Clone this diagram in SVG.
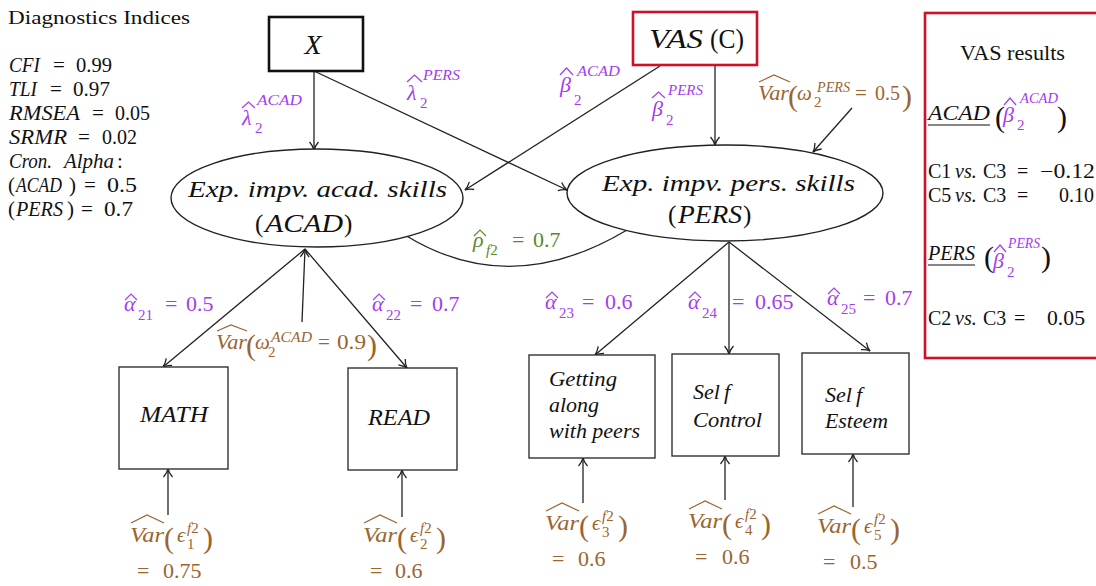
<svg xmlns="http://www.w3.org/2000/svg" width="1096" height="586" viewBox="0 0 1096 586">
<defs>
<marker id="arr" markerUnits="userSpaceOnUse" markerWidth="12" markerHeight="12" viewBox="0 0 12 12" refX="11" refY="6" orient="auto">
<path d="M3,1.5 Q7,5 11,6 Q7,7 3,10.5" fill="none" stroke="#222" stroke-width="1.3"/>
</marker>
</defs>
<style>
text{font-family:"Liberation Serif","Times New Roman",serif;fill:#111;font-size:21px}
.i{font-style:italic}
.p{fill:#a43cf2}
.b{fill:#9a6530}
.g{fill:#5a8a2a}
.s{font-size:15px}
.big{font-size:30px}
.m{font-size:22px}
.ph{stroke:#a43cf2;fill:none;stroke-width:1.2}
.bh{stroke:#9a6530;fill:none;stroke-width:1.2}
.gh{stroke:#5a8a2a;fill:none;stroke-width:1.2}
.box{fill:#fff;stroke:#333;stroke-width:1.4}
.ell{fill:#fff;stroke:#222;stroke-width:1.4}
.edge{stroke:#222;stroke-width:1.3;fill:none}
.arr{marker-end:url(#arr)}
.n{font-size:22px;font-style:italic}
.r{font-size:20px}
</style>
<rect width="1096" height="586" fill="#fff"/>

<g id="diagnostics">
<text x="8" y="24" style="font-size:19px" textLength="182" lengthAdjust="spacingAndGlyphs">Diagnostics Indices</text>
<text x="9" y="72" class="i" textLength="31" lengthAdjust="spacingAndGlyphs">CFI</text>
<text x="53" y="72">=</text>
<text x="76" y="72" textLength="36" lengthAdjust="spacingAndGlyphs">0.99</text>
<text x="9" y="96" class="i" textLength="28" lengthAdjust="spacingAndGlyphs">TLI</text>
<text x="50" y="96">=</text>
<text x="73" y="96" textLength="37" lengthAdjust="spacingAndGlyphs">0.97</text>
<text x="9" y="120" class="i" textLength="71" lengthAdjust="spacingAndGlyphs">RMSEA</text>
<text x="92" y="120">=</text>
<text x="115" y="120" textLength="35" lengthAdjust="spacingAndGlyphs">0.05</text>
<text x="9" y="144" class="i" textLength="58" lengthAdjust="spacingAndGlyphs">SRMR</text>
<text x="78" y="144">=</text>
<text x="102" y="144" textLength="35" lengthAdjust="spacingAndGlyphs">0.02</text>
<text x="9" y="168" class="i" textLength="43" lengthAdjust="spacingAndGlyphs">Cron.</text>
<text x="64" y="168" class="i" textLength="50" lengthAdjust="spacingAndGlyphs">Alpha</text>
<text x="117" y="168">:</text>
<text x="8" y="192">(</text>
<text x="16" y="192" class="i" textLength="46" lengthAdjust="spacingAndGlyphs">ACAD</text>
<text x="69" y="192">)</text>
<text x="84" y="192">=</text>
<text x="107" y="192" textLength="30" lengthAdjust="spacingAndGlyphs">0.5</text>
<text x="8" y="216">(</text>
<text x="16" y="216" class="i" textLength="47" lengthAdjust="spacingAndGlyphs">PERS</text>
<text x="67" y="216">)</text>
<text x="81" y="216">=</text>
<text x="104" y="216" textLength="29" lengthAdjust="spacingAndGlyphs">0.7</text>
</g>

<g id="connectors">
<path class="edge arr" d="M314,71 L314,150"/>
<path class="edge arr" d="M314,71 L567,190"/>
<path class="edge arr" d="M660,66 L465,190"/>
<path class="edge arr" d="M715,65 L715,145"/>
<path class="edge arr" d="M852,108 L813,152"/>
<path class="edge arr" d="M305,249 L163,367"/>
<path class="edge arr" d="M305,249 L407,368"/>
<path class="edge arr" d="M302,322 L305,249"/>
<path class="edge arr" d="M729,242 L595,355"/>
<path class="edge arr" d="M729,242 L729,354"/>
<path class="edge arr" d="M729,242 L870,351"/>
<path class="edge arr" d="M168,515 L168,469"/>
<path class="edge arr" d="M402,517 L402,470"/>
<path class="edge arr" d="M583,503 L583,458"/>
<path class="edge arr" d="M725,500 L725,456"/>
<path class="edge arr" d="M853,507 L853,454"/>
<path class="edge" d="M405,235 Q510,300 627,230"/>
</g>

<g id="node-X">
<rect x="269" y="17" width="94" height="54" fill="#fff" stroke="#111" stroke-width="2.6"/>
<text x="313" y="54" class="i" text-anchor="middle" style="font-size:28px">X</text>
</g>

<g id="node-VAS">
<rect x="633" y="12" width="124" height="53" fill="#fff" stroke="#d01027" stroke-width="2.6"/>
<text x="649" y="48" class="i" style="font-size:27px" textLength="54" lengthAdjust="spacingAndGlyphs">VAS</text>
<text x="710" y="48" style="font-size:27px" textLength="34" lengthAdjust="spacingAndGlyphs">(C)</text>
</g>

<g id="node-ACAD">
<ellipse class="ell" cx="317" cy="198" rx="146" ry="49"/>
<text x="188" y="197" class="i" style="font-size:24px" textLength="259" lengthAdjust="spacingAndGlyphs">Exp. impv. acad. skills</text>
<text x="255" y="232" style="font-size:25px">(</text>
<text x="265" y="232" class="i" style="font-size:25px" textLength="78" lengthAdjust="spacingAndGlyphs">ACAD</text>
<text x="344" y="232" style="font-size:25px">)</text>
</g>

<g id="node-PERS">
<ellipse class="ell" cx="725" cy="193" rx="158" ry="48"/>
<text x="602" y="191" class="i" style="font-size:24px" textLength="253" lengthAdjust="spacingAndGlyphs">Exp. impv. pers. skills</text>
<text x="668" y="223" style="font-size:25px">(</text>
<text x="678" y="223" class="i" style="font-size:25px" textLength="64" lengthAdjust="spacingAndGlyphs">PERS</text>
<text x="743" y="223" style="font-size:25px">)</text>
</g>

<g id="node-MATH">
<rect class="box" x="119" y="367" width="109" height="102"/>
<text x="140" y="422" class="n" style="font-size:24px" textLength="68" lengthAdjust="spacingAndGlyphs">MATH</text>
</g>
<g id="node-READ">
<rect class="box" x="348" y="368" width="109" height="102"/>
<text x="368" y="425" class="n" style="font-size:24px" textLength="62" lengthAdjust="spacingAndGlyphs">READ</text>
</g>
<g id="node-Getting">
<rect class="box" x="529" y="355" width="126" height="103"/>
<text x="549" y="386" class="n" textLength="68" lengthAdjust="spacingAndGlyphs">Getting</text>
<text x="549" y="412" class="n" textLength="50" lengthAdjust="spacingAndGlyphs">along</text>
<text x="549" y="438" class="n" textLength="91" lengthAdjust="spacingAndGlyphs">with peers</text>
</g>
<g id="node-SelfControl">
<rect class="box" x="672" y="354" width="107" height="102"/>
<text x="693" y="399" class="n">Sel<tspan dx="4">f</tspan></text>
<text x="693" y="427" class="n" textLength="69" lengthAdjust="spacingAndGlyphs">Control</text>
</g>
<g id="node-SelfEsteem">
<rect class="box" x="802" y="353" width="107" height="101"/>
<text x="825" y="402" class="n">Sel<tspan dx="4">f</tspan></text>
<text x="825" y="428" class="n" textLength="63" lengthAdjust="spacingAndGlyphs">Esteem</text>
</g>

<g id="label-lambda-acad">
<polyline class="ph" points="242,108 248.5,102 255,108"/>
<text x="242" y="125" class="i p m">λ</text>
<text x="255" y="133" class="p s">2</text>
<text x="257" y="105" class="i p s" textLength="45" lengthAdjust="spacingAndGlyphs">ACAD</text>
</g>
<g id="label-lambda-pers">
<polyline class="ph" points="407,82 414.5,75 422,82"/>
<text x="407" y="100" class="i p m">λ</text>
<text x="420" y="108" class="p s">2</text>
<text x="423" y="80" class="i p s" textLength="37" lengthAdjust="spacingAndGlyphs">PERS</text>
</g>
<g id="label-beta-acad">
<polyline class="ph" points="560,75 566.5,68 573,75"/>
<text x="560" y="92" class="i p m">β</text>
<text x="574" y="105" class="p s">2</text>
<text x="577" y="76" class="i p s" textLength="43" lengthAdjust="spacingAndGlyphs">ACAD</text>
</g>
<g id="label-beta-pers">
<polyline class="ph" points="652,98 658.5,92 665,98"/>
<text x="652" y="116" class="i p m">β</text>
<text x="666" y="125" class="p s">2</text>
<text x="668" y="95" class="i p s" textLength="35" lengthAdjust="spacingAndGlyphs">PERS</text>
</g>
<g id="label-omega-pers">
<polyline class="bh" points="759,82 774,75 790,82"/>
<text x="758" y="100" class="i b" textLength="31" lengthAdjust="spacingAndGlyphs">Var</text>
<text x="788" y="106" class="b big">(</text>
<text x="797" y="100" class="i b">ω</text>
<text x="814" y="107" class="b s">2</text>
<text x="817" y="92" class="i b s" textLength="33" lengthAdjust="spacingAndGlyphs">PERS</text>
<text x="855" y="100" class="b">=</text>
<text x="875" y="100" class="b r">0.5</text>
<text x="902" y="106" class="b big">)</text>
</g>
<g id="label-omega-acad">
<polyline class="bh" points="217,331 231,325 247,331"/>
<text x="216" y="349" class="i b" textLength="31" lengthAdjust="spacingAndGlyphs">Var</text>
<text x="246" y="355" class="b big">(</text>
<text x="255" y="349" class="i b">ω</text>
<text x="268" y="357" class="b s">2</text>
<text x="271" y="342" class="i b s" textLength="41" lengthAdjust="spacingAndGlyphs">ACAD</text>
<text x="318" y="349" class="b">=</text>
<text x="337" y="349" class="b" textLength="29" lengthAdjust="spacingAndGlyphs">0.9</text>
<text x="367" y="355" class="b big">)</text>
</g>
<g id="label-rho">
<polyline class="gh" points="474,236 480,230 486,236"/>
<text x="473" y="247" class="i g m">ρ</text>
<text x="486" y="255" class="i g s">f<tspan font-style="normal">2</tspan></text>
<text x="512" y="247" class="g m">=</text>
<text x="533" y="247" class="g m">0.7</text>
</g>

<g id="label-alpha21">
<polyline class="ph" points="125,300 131,294 137,300"/>
<text x="124" y="311" class="i p m">α</text>
<text x="138" y="320" class="p s">21</text>
<text x="165" y="311" class="p m">=</text>
<text x="186" y="311" class="p m">0.5</text>
</g>
<g id="label-alpha22">
<polyline class="ph" points="373,300 379,294 385,300"/>
<text x="372" y="311" class="i p m">α</text>
<text x="386" y="320" class="p s">22</text>
<text x="410" y="311" class="p m">=</text>
<text x="432" y="311" class="p m">0.7</text>
</g>
<g id="label-alpha23">
<polyline class="ph" points="546,298 552,292 558,298"/>
<text x="545" y="309" class="i p m">α</text>
<text x="559" y="318" class="p s">23</text>
<text x="582" y="309" class="p m">=</text>
<text x="605" y="309" class="p m">0.6</text>
</g>
<g id="label-alpha24">
<polyline class="ph" points="689,298 695,292 701,298"/>
<text x="688" y="309" class="i p m">α</text>
<text x="702" y="318" class="p s">24</text>
<text x="732" y="309" class="p m">=</text>
<text x="755" y="309" class="p m">0.65</text>
</g>
<g id="label-alpha25">
<polyline class="ph" points="828,294 834,288 840,294"/>
<text x="827" y="305" class="i p m">α</text>
<text x="841" y="314" class="p s">25</text>
<text x="863" y="305" class="p m">=</text>
<text x="885" y="305" class="p m">0.7</text>
</g>

<g id="label-eps1" transform="translate(130,542)">
<polyline class="bh" points="1,-19 17,-27 34,-19"/>
<text x="0" y="0" class="i b" textLength="34" lengthAdjust="spacingAndGlyphs">Var</text>
<text x="34" y="6" class="b big">(</text>
<text x="47" y="0" class="i b">ϵ</text>
<text x="57" y="-9" class="i b s">f<tspan font-style="normal">2</tspan></text>
<text x="57" y="7" class="b s">1</text>
<text x="73" y="6" class="b big">)</text>
<text x="7" y="36" class="b m">=</text>
<text x="33" y="36" class="b m">0.75</text>
</g>
<g id="label-eps2" transform="translate(363,542)">
<polyline class="bh" points="1,-19 17,-27 34,-19"/>
<text x="0" y="0" class="i b" textLength="34" lengthAdjust="spacingAndGlyphs">Var</text>
<text x="34" y="6" class="b big">(</text>
<text x="47" y="0" class="i b">ϵ</text>
<text x="57" y="-9" class="i b s">f<tspan font-style="normal">2</tspan></text>
<text x="57" y="7" class="b s">2</text>
<text x="73" y="6" class="b big">)</text>
<text x="7" y="36" class="b m">=</text>
<text x="32" y="36" class="b m">0.6</text>
</g>
<g id="label-eps3" transform="translate(545,530)">
<polyline class="bh" points="1,-19 17,-27 34,-19"/>
<text x="0" y="0" class="i b" textLength="34" lengthAdjust="spacingAndGlyphs">Var</text>
<text x="34" y="6" class="b big">(</text>
<text x="47" y="0" class="i b">ϵ</text>
<text x="57" y="-9" class="i b s">f<tspan font-style="normal">2</tspan></text>
<text x="57" y="7" class="b s">3</text>
<text x="73" y="6" class="b big">)</text>
<text x="7" y="36" class="b m">=</text>
<text x="33" y="36" class="b m">0.6</text>
</g>
<g id="label-eps4" transform="translate(688,528)">
<polyline class="bh" points="1,-19 17,-27 34,-19"/>
<text x="0" y="0" class="i b" textLength="34" lengthAdjust="spacingAndGlyphs">Var</text>
<text x="34" y="6" class="b big">(</text>
<text x="47" y="0" class="i b">ϵ</text>
<text x="57" y="-9" class="i b s">f<tspan font-style="normal">2</tspan></text>
<text x="57" y="7" class="b s">4</text>
<text x="73" y="6" class="b big">)</text>
<text x="7" y="36" class="b m">=</text>
<text x="34" y="36" class="b m">0.6</text>
</g>
<g id="label-eps5" transform="translate(817,533)">
<polyline class="bh" points="1,-19 17,-27 34,-19"/>
<text x="0" y="0" class="i b" textLength="34" lengthAdjust="spacingAndGlyphs">Var</text>
<text x="34" y="6" class="b big">(</text>
<text x="47" y="0" class="i b">ϵ</text>
<text x="57" y="-9" class="i b s">f<tspan font-style="normal">2</tspan></text>
<text x="57" y="7" class="b s">5</text>
<text x="73" y="6" class="b big">)</text>
<text x="6" y="36" class="b m">=</text>
<text x="33" y="36" class="b m">0.5</text>
</g>

<g id="vas-results">
<rect x="925" y="13" width="200" height="345" fill="none" stroke="#d01027" stroke-width="2.6"/>
<text x="960" y="60" style="font-size:20px" textLength="105" lengthAdjust="spacingAndGlyphs">VAS results</text>
<text x="928" y="120" class="i" textLength="62" lengthAdjust="spacingAndGlyphs">ACAD</text>
<line x1="928" y1="125" x2="990" y2="125" stroke="#111" stroke-width="1.2"/>
<text x="995" y="127" class="big">(</text>
<polyline class="ph" points="1004,105 1010,98 1016,105"/>
<text x="1003" y="122" class="i p m">β</text>
<text x="1017" y="130" class="p s">2</text>
<text x="1020" y="103" class="i p s" textLength="38" lengthAdjust="spacingAndGlyphs">ACAD</text>
<text x="1057" y="127" class="big">)</text>
<text x="928" y="178" class="r">C1</text>
<text x="955" y="178" class="i r">vs.</text>
<text x="983" y="178" class="r">C3</text>
<text x="1017" y="178" class="r">=</text>
<text x="1040" y="178" class="r" textLength="55" lengthAdjust="spacingAndGlyphs">−0.12</text>
<text x="928" y="202" class="r">C5</text>
<text x="955" y="202" class="i r">vs.</text>
<text x="983" y="202" class="r">C3</text>
<text x="1017" y="202" class="r">=</text>
<text x="1059" y="202" class="r">0.10</text>
<text x="928" y="260" class="i" textLength="47" lengthAdjust="spacingAndGlyphs">PERS</text>
<line x1="928" y1="265" x2="975" y2="265" stroke="#111" stroke-width="1.2"/>
<text x="984" y="267" class="big">(</text>
<polyline class="ph" points="994,252 1000,245 1006,252"/>
<text x="993" y="268" class="i p m">β</text>
<text x="1007" y="277" class="p s">2</text>
<text x="1008" y="248" class="i p s" textLength="32" lengthAdjust="spacingAndGlyphs">PERS</text>
<text x="1041" y="267" class="big">)</text>
<text x="928" y="325" class="r">C2</text>
<text x="955" y="325" class="i r">vs.</text>
<text x="983" y="325" class="r">C3</text>
<text x="1014" y="325" class="r">=</text>
<text x="1047" y="325" class="r" textLength="38" lengthAdjust="spacingAndGlyphs">0.05</text>
</g>
</svg>
